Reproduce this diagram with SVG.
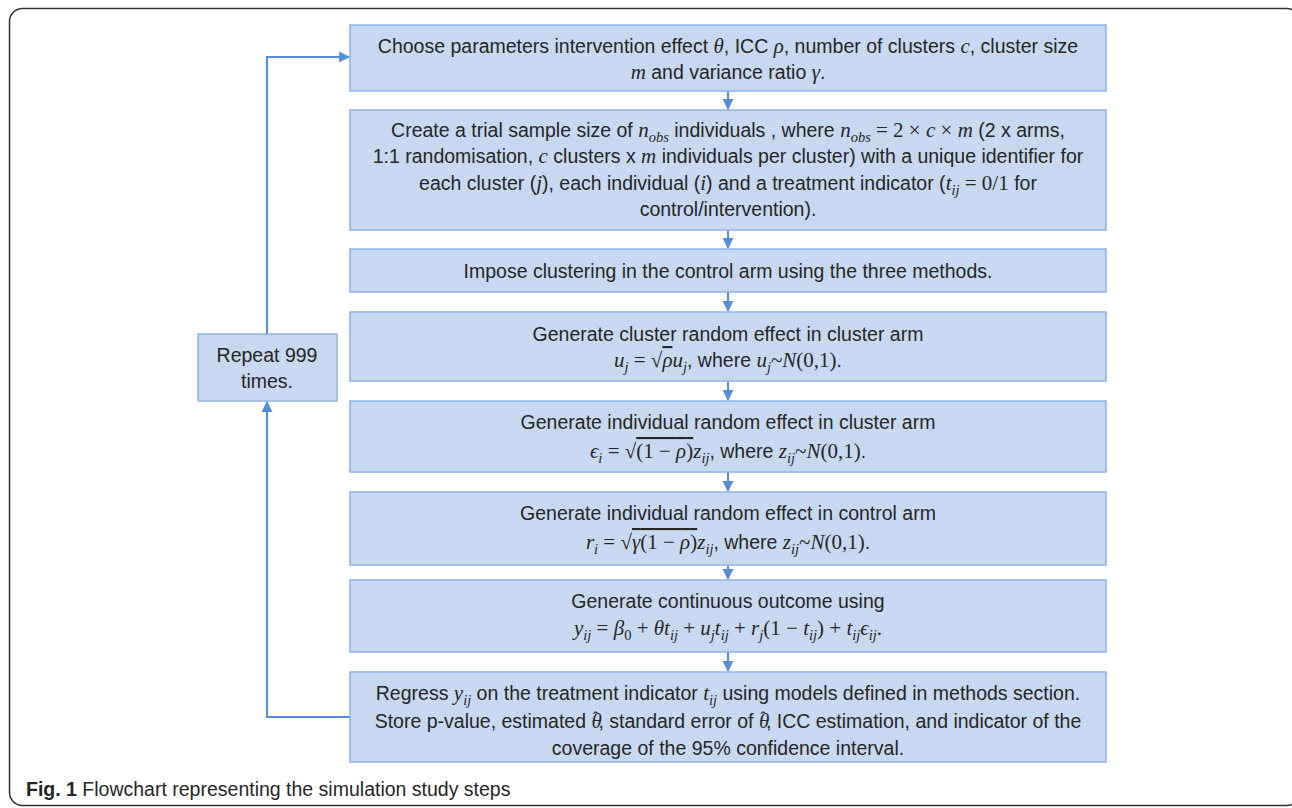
<svg xmlns="http://www.w3.org/2000/svg" width="1292" height="808" viewBox="0 0 1292 808">
<style>
.box{fill:#C6D9F1;stroke:#8DB3E2;stroke-width:1.5}
.t{font-family:"Liberation Sans",Arial,sans-serif;font-size:19.5px;fill:#262626;text-anchor:middle}
.m{font-family:"Liberation Serif","DejaVu Serif",serif;font-style:italic;font-size:21px}
.r{font-family:"Liberation Serif","DejaVu Serif",serif;font-style:normal;font-size:21px}
.s{font-family:"Liberation Serif","DejaVu Serif",serif;font-style:italic;font-size:14.5px}
.h{font-family:"Liberation Serif","DejaVu Serif",serif;font-style:normal;font-size:17px}
.ov{text-decoration:overline}
.c{fill:none;stroke:#558ED5;stroke-width:2}
.cap{font-family:"Liberation Sans",Arial,sans-serif;font-size:19.5px;fill:#262626}
</style>
<defs>
<marker id="ah" markerWidth="11" markerHeight="11" refX="9" refY="5" orient="auto" markerUnits="userSpaceOnUse" viewBox="0 0 10 10">
<path d="M0,0 L10,5 L0,10 z" fill="#558ED5"/>
</marker>
</defs>
<rect x="9.5" y="8.5" width="1290" height="797" rx="13" fill="#fff" stroke="#333" stroke-width="1.5"/>

<g id="connectors">
<line class="c" x1="728" y1="91" x2="728" y2="109" marker-end="url(#ah)"/>
<line class="c" x1="728" y1="230" x2="728" y2="248" marker-end="url(#ah)"/>
<line class="c" x1="728" y1="292" x2="728" y2="311" marker-end="url(#ah)"/>
<line class="c" x1="728" y1="381" x2="728" y2="400" marker-end="url(#ah)"/>
<line class="c" x1="728" y1="472" x2="728" y2="491" marker-end="url(#ah)"/>
<line class="c" x1="728" y1="565" x2="728" y2="579" marker-end="url(#ah)"/>
<line class="c" x1="728" y1="652" x2="728" y2="671" marker-end="url(#ah)"/>
<polyline class="c" points="350,717 267,717 267,402" marker-end="url(#ah)"/>
<polyline class="c" points="267,334 267,57 349,57" marker-end="url(#ah)"/>
</g>

<g id="n1">
<rect class="box" x="350" y="25" width="756" height="66"/>
<text class="t" x="728" y="53">Choose parameters intervention effect <tspan class="m">θ</tspan>, ICC <tspan class="m">ρ</tspan>, number of clusters <tspan class="m">c</tspan>, cluster size</text>
<text class="t" x="728" y="79"><tspan class="m">m</tspan> and variance ratio <tspan class="m">γ</tspan>.</text>
</g>

<g id="n2">
<rect class="box" x="350" y="110" width="756" height="120"/>
<text class="t" x="728" y="137">Create a trial sample size of <tspan class="m">n</tspan><tspan class="s" dy="5">obs</tspan><tspan dy="-5"> individuals , where </tspan><tspan class="m">n</tspan><tspan class="s" dy="5">obs</tspan><tspan dy="-5" class="r"> = 2 × </tspan><tspan class="m">c</tspan><tspan class="r"> × </tspan><tspan class="m">m</tspan> (2 x arms,</text>
<text class="t" x="728" y="163">1:1 randomisation, <tspan class="m">c</tspan> clusters x <tspan class="m">m</tspan> individuals per cluster) with a unique identifier for</text>
<text class="t" x="728" y="190">each cluster (<tspan class="m">j</tspan>), each individual (<tspan class="m">i</tspan>) and a treatment indicator (<tspan class="m">t</tspan><tspan class="s" dy="5">ij</tspan><tspan class="r" dy="-5"> = 0/1</tspan> for</text>
<text class="t" x="728" y="216">control/intervention).</text>
</g>

<g id="n3">
<rect class="box" x="350" y="249" width="756" height="43"/>
<text class="t" x="728" y="278">Impose clustering in the control arm using the three methods.</text>
</g>

<g id="n4">
<rect class="box" x="350" y="312" width="756" height="69"/>
<text class="t" x="728" y="341">Generate cluster random effect in cluster arm</text>
<text class="t" x="728" y="367"><tspan class="m">u</tspan><tspan class="s" dy="5">j</tspan><tspan class="r" dy="-5"> = √</tspan><tspan class="m ov">ρ</tspan><tspan class="m">u</tspan><tspan class="s" dy="5">j</tspan><tspan dy="-5">, where </tspan><tspan class="m">u</tspan><tspan class="s" dy="5">j</tspan><tspan class="r" dy="-5">~</tspan><tspan class="m">N</tspan><tspan class="r">(0,1)</tspan>.</text>
</g>

<g id="n5">
<rect class="box" x="350" y="401" width="756" height="71"/>
<text class="t" x="728" y="429">Generate individual random effect in cluster arm</text>
<text class="t" x="728" y="458"><tspan class="m">ϵ</tspan><tspan class="s" dy="5">i</tspan><tspan class="r" dy="-5"> = √</tspan><tspan class="r ov">(1 − <tspan class="m">ρ</tspan>)</tspan><tspan class="m">z</tspan><tspan class="s" dy="5">ij</tspan><tspan dy="-5">, where </tspan><tspan class="m">z</tspan><tspan class="s" dy="5">ij</tspan><tspan class="r" dy="-5">~</tspan><tspan class="m">N</tspan><tspan class="r">(0,1)</tspan>.</text>
</g>

<g id="n6">
<rect class="box" x="350" y="492" width="756" height="73"/>
<text class="t" x="728" y="520">Generate individual random effect in control arm</text>
<text class="t" x="728" y="549"><tspan class="m">r</tspan><tspan class="s" dy="5">i</tspan><tspan class="r" dy="-5"> = √</tspan><tspan class="r ov"><tspan class="m">γ</tspan>(1 − <tspan class="m">ρ</tspan>)</tspan><tspan class="m">z</tspan><tspan class="s" dy="5">ij</tspan><tspan dy="-5">, where </tspan><tspan class="m">z</tspan><tspan class="s" dy="5">ij</tspan><tspan class="r" dy="-5">~</tspan><tspan class="m">N</tspan><tspan class="r">(0,1)</tspan>.</text>
</g>

<g id="n7">
<rect class="box" x="350" y="580" width="756" height="72"/>
<text class="t" x="728" y="608">Generate continuous outcome using</text>
<text class="t" x="728" y="635"><tspan class="m">y</tspan><tspan class="s" dy="5">ij</tspan><tspan class="r" dy="-5"> = </tspan><tspan class="m">β</tspan><tspan class="s" dy="5" style="font-style:normal">0</tspan><tspan class="r" dy="-5"> + </tspan><tspan class="m">θt</tspan><tspan class="s" dy="5">ij</tspan><tspan class="r" dy="-5"> +  </tspan><tspan class="m">u</tspan><tspan class="s" dy="5">j</tspan><tspan class="m" dy="-5">t</tspan><tspan class="s" dy="5">ij</tspan><tspan class="r" dy="-5"> + </tspan><tspan class="m">r</tspan><tspan class="s" dy="5">j</tspan><tspan class="r" dy="-5">(1 − </tspan><tspan class="m">t</tspan><tspan class="s" dy="5">ij</tspan><tspan class="r" dy="-5">)  + </tspan><tspan class="m">t</tspan><tspan class="s" dy="5">ij</tspan><tspan class="m" dy="-5">ϵ</tspan><tspan class="s" dy="5">ij</tspan><tspan class="r" dy="-5">.</tspan></text>
</g>

<g id="n8">
<rect class="box" x="350" y="672" width="756" height="90"/>
<text class="t" x="728" y="700">Regress <tspan class="m">y</tspan><tspan class="s" dy="5">ij</tspan><tspan dy="-5"> on the treatment indicator </tspan><tspan class="m">t</tspan><tspan class="s" dy="5">ij</tspan><tspan dy="-5"> using models defined in methods section.</tspan></text>
<text class="t" x="728" y="728">Store p-value, estimated <tspan class="m">θ</tspan><tspan class="h" dx="-9" dy="-5">ˆ</tspan><tspan dy="5">, standard error of </tspan><tspan class="m">θ</tspan><tspan class="h" dx="-9" dy="-5">ˆ</tspan><tspan dy="5">, ICC estimation, and indicator of the</tspan></text>
<text class="t" x="728" y="755">coverage of the 95% confidence interval.</text>
</g>

<g id="repeat">
<rect class="box" x="198" y="334" width="139" height="67"/>
<text class="t" x="267" y="362">Repeat 999</text>
<text class="t" x="267" y="388">times.</text>
</g>

<text class="cap" x="26" y="796"><tspan font-weight="bold">Fig. 1</tspan> Flowchart representing the simulation study steps</text>
</svg>
